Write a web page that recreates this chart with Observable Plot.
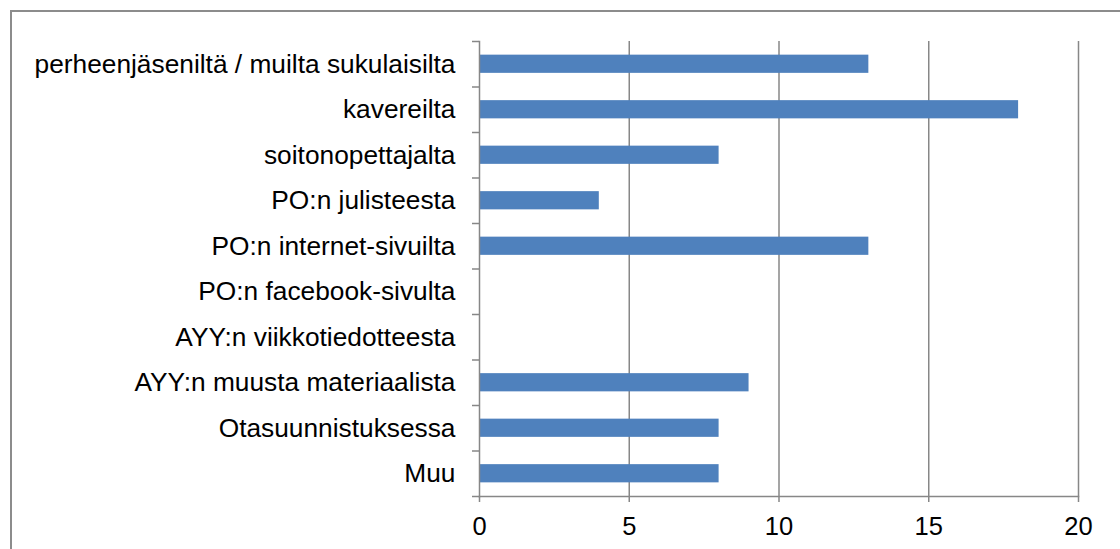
<!DOCTYPE html>
<html>
<head>
<meta charset="utf-8">
<script src="https://cdn.jsdelivr.net/npm/d3@7"></script>
<script src="https://cdn.jsdelivr.net/npm/@observablehq/plot@0.6"></script>
<style>
  html, body { margin: 0; padding: 0; background: #fff; overflow: hidden; }
  #wrap { position: relative; width: 1120px; height: 549px; overflow: hidden; }
  #border { position: absolute; left: 10px; top: 10px; width: 1200px; height: 700px; border: 2px solid #8c8c8c; box-sizing: border-box; }
  #chart { position: absolute; left: 0; top: 0; }
</style>
</head>
<body>
<div id="wrap"><div id="border"></div><div id="chart"></div></div>
<script>
const categories = [
  "perheenjäseniltä / muilta sukulaisilta",
  "kavereilta",
  "soitonopettajalta",
  "PO:n julisteesta",
  "PO:n internet-sivuilta",
  "PO:n facebook-sivulta",
  "AYY:n viikkotiedotteesta",
  "AYY:n muusta materiaalista",
  "Otasuunnistuksessa",
  "Muu"
];
const values = [13, 18, 8, 4, 13, 0, 0, 9, 8, 8];
const xTicks = [0, 5, 10, 15, 20];

const data = categories.map((c, i) => ({category: c, value: values[i]}));

const W = 1120, H = 549;
const mTop = 41, mBottom = 53, mLeft = 479, mRight = 42;
const step = (H - mTop - mBottom) / categories.length;
const gray = "#878787";

const chart = Plot.plot({
  width: W,
  height: H,
  marginTop: mTop,
  marginBottom: mBottom,
  marginLeft: mLeft,
  marginRight: mRight,
  style: {fontFamily: "'Liberation Sans', Arial, sans-serif", fontSize: "26.3px", color: "#000", background: "transparent"},
  x: {domain: [0, 20], ticks: xTicks},
  y: {domain: categories, paddingInner: 0.6, paddingOuter: 0.3, round: false, label: null},
  marks: [
    Plot.gridX(xTicks.slice(1), {stroke: gray, strokeOpacity: 1, strokeWidth: 1.5}),
    Plot.barX(data, {x: "value", y: "category", fill: "#4f81bd"}),
    Plot.axisX(xTicks, {tickSize: 6, tickPadding: 14, stroke: gray, strokeWidth: 1.5, fill: "#000", label: null, tickFormat: d => String(d), fontSize: "25.5px"}),
    Plot.axisY({tickSize: 0, tickPadding: 24, label: null, fill: "#000"}),
    Plot.axisY({tickSize: 7, tickFormat: () => "", label: null, dy: -step / 2, stroke: gray, strokeWidth: 1.5}),
    Plot.axisY([categories[categories.length - 1]], {tickSize: 7, tickFormat: () => "", label: null, dy: step / 2, stroke: gray, strokeWidth: 1.5}),
    Plot.frame({anchor: "bottom", stroke: gray, strokeWidth: 1.5}),
    Plot.frame({anchor: "left", stroke: gray, strokeWidth: 1.5})
  ]
});
document.getElementById("chart").appendChild(chart);
</script>
</body>
</html>
